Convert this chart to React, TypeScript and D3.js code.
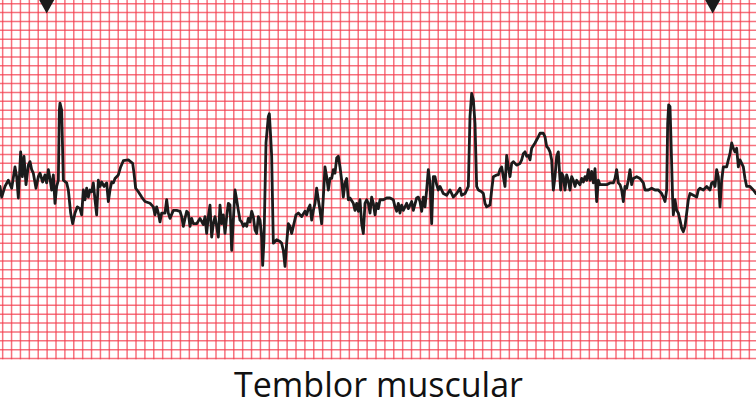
import React from "react";
import * as d3 from "d3";

// ECG trace: time (ms) and amplitude (mV)
const timeMs: number[] = [
  0, 7.5, 22.5, 37.5, 52.5, 67.5, 75, 82.5, 93, 100.5, 108, 117, 127.5, 135, 142.5, 150, 162, 172.5, 180, 192, 202.5, 210, 217.5, 225, 232.5, 240, 247.5, 255, 262.5, 267, 270, 277.5, 285, 300, 307.5, 318, 327, 337.5, 348, 360, 367.5, 375, 382.5, 390, 397.5, 405, 412.5, 420, 427.5, 435, 442.5, 450, 457.5, 468, 480, 487.5, 495, 502.5, 510, 517.5, 532.5, 543, 555, 577.5, 597, 603, 610.5, 622.5, 637.5, 652.5, 675, 690, 697.5, 705, 712.5, 720, 727.5, 742.5, 750, 757.5, 765, 780, 795, 810, 817.5, 825, 832.5, 840, 847.5, 855, 862.5, 870, 885, 900, 915, 922.5, 930, 937.5, 945, 952.5, 960, 967.5, 975, 982.5, 990, 997.5, 1005, 1012.5, 1020, 1027.5,
  1035, 1042.5, 1050, 1057.5, 1065, 1072.5, 1080, 1087.5, 1095, 1102.5, 1110, 1117.5, 1125, 1132.5, 1140, 1147.5, 1155, 1162.5, 1170, 1177.5, 1182, 1188, 1197, 1207.5, 1212, 1218, 1222.5, 1230, 1237.5, 1245, 1260, 1267.5, 1275, 1282.5, 1290, 1297.5, 1305, 1312.5, 1320, 1332, 1342.5, 1357.5, 1372.5, 1380, 1387.5, 1395, 1402.5, 1410, 1417.5, 1425, 1432.5, 1440, 1447.5, 1455, 1462.5, 1470, 1477.5, 1485, 1492.5, 1500, 1507.5, 1515, 1522.5, 1530, 1537.5, 1545, 1552.5, 1560, 1567.5, 1575, 1590, 1597.5, 1605, 1612.5, 1620, 1627.5, 1635, 1642.5, 1650, 1657.5, 1665, 1672.5, 1680, 1687.5, 1695, 1702.5, 1710, 1725, 1740, 1755, 1770, 1777.5, 1785, 1792.5, 1800, 1807.5, 1815, 1830, 1837.5, 1852.5, 1860, 1875, 1882.5, 1890, 1897.5, 1905, 1912.5, 1920, 1927.5, 1935, 1942.5, 1950, 1957.5, 1965, 1972.5, 1980, 1995, 2010, 2025, 2040, 2055, 2070, 2077.5, 2092.5, 2107.5, 2115, 2122.5, 2130, 2137.5, 2145, 2152.5, 2167.5,
  2175, 2182.5, 2190, 2205, 2212.5, 2220, 2235, 2242.5, 2250, 2257.5, 2265, 2272.5, 2280, 2287.5, 2295, 2302.5, 2310, 2325, 2340, 2347.5, 2355, 2362.5, 2370, 2377.5, 2385, 2392.5, 2407.5, 2422.5, 2430, 2445, 2452.5, 2460, 2467.5, 2475, 2482.5, 2490, 2497.5, 2505, 2512.5, 2517, 2523, 2527.5, 2535, 2542.5, 2550, 2557.5, 2565, 2572.5, 2580, 2587.5, 2595, 2602.5, 2610, 2617.5, 2625, 2632.5, 2640, 2647.5, 2655, 2662.5, 2670, 2677.5, 2685, 2692.5, 2700, 2715, 2730, 2745, 2760, 2767.5, 2775, 2782.5, 2790, 2797.5, 2805, 2812.5, 2820, 2827.5, 2835, 2842.5, 2850, 2865, 2880, 2895, 2902.5, 2917.5, 2932.5, 2947.5, 2962.5, 2977.5, 2985, 2992.5, 3000, 3004.5, 3009, 3015, 3019.5, 3027, 3030, 3037.5, 3045, 3052.5, 3060, 3067.5, 3075, 3082.5, 3090, 3097.5, 3105, 3120, 3135, 3142.5, 3150, 3165, 3180, 3195, 3202.5, 3210, 3217.5, 3225, 3232.5, 3240, 3247.5, 3255, 3270, 3277.5, 3285, 3292.5, 3300, 3307.5, 3315, 3322.5, 3330, 3337.5, 3345, 3352.5, 3360, 3375, 3390, 3402,
];

const amplitudeMv: number[] = [
  0.04, -0.08, 0.04, 0.11, 0.02, 0.26, 0.15, -0.09, 0.43, 0.15, 0.38, 0.06, 0.28, 0.32, 0.23, 0.19, 0.02, 0.15, 0.19, 0.09, 0.17, 0.08, 0.23, 0.13, 0.0, 0.17, -0.15, 0.04, 0.11, 0.9, 0.98, 0.9, 0.11, 0.08, 0.0, -0.26, -0.38, -0.26, -0.19, -0.21, -0.28, 0.0, -0.11, 0.02, -0.08, 0.0, -0.02, 0.08, -0.11, -0.28, 0.11, 0.04, 0.09, 0.04, 0.08, -0.13, 0.0, 0.09, 0.08, 0.13, 0.17, 0.26, 0.33, 0.34, 0.3, 0.19, 0.02, -0.02, -0.08, -0.13, -0.15, -0.19, -0.28, -0.19, -0.26, -0.36, -0.26, -0.26, -0.11, -0.26, -0.32, -0.23, -0.23, -0.24, -0.3, -0.41, -0.32, -0.24, -0.26, -0.41, -0.32, -0.38, -0.38, -0.32, -0.39, -0.3, -0.49, -0.3, -0.17, -0.53, -0.38, -0.3, -0.41, -0.53, -0.17, -0.38, -0.28, -0.49, -0.3, -0.15,
  -0.17, -0.68, -0.34, 0.0, -0.11, -0.23, -0.34, -0.36, -0.41, -0.38, -0.41, -0.32, -0.36, -0.24, -0.3, -0.45, -0.49, -0.3, -0.34, -0.53, -0.85, -0.56, 0.53, 0.83, 0.86, 0.6, 0.38, -0.6, -0.58, -0.56, -0.58, -0.6, -0.68, -0.86, -0.6, -0.38, -0.41, -0.49, -0.41, -0.28, -0.26, -0.3, -0.24, -0.28, -0.21, -0.17, -0.34, -0.23, -0.15, 0.02, -0.11, -0.23, -0.38, -0.08, 0.26, 0.15, 0.0, 0.13, 0.13, 0.23, 0.19, 0.36, 0.38, 0.26, 0.11, -0.08, 0.08, 0.13, -0.11, -0.09, -0.15, -0.23, -0.15, -0.24, -0.11, -0.38, -0.49, -0.15, -0.11, -0.15, -0.26, -0.08, -0.15, -0.28, -0.15, -0.21, -0.11, -0.11, -0.09, -0.09, -0.11, -0.19, -0.24, -0.15, -0.26, -0.17, -0.23, -0.15, -0.21, -0.13, -0.23, -0.09, -0.08, -0.13, -0.24, -0.08, -0.19, 0.0, 0.23, 0.08, -0.38, 0.15, 0.15, 0.06, 0.0, 0.04, -0.04, -0.06, 0.0, -0.08, -0.04, 0.02, -0.06, -0.04, 0.04, 0.83, 1.09, 1.02, 0.75, 0.04, 0.0, -0.02,
  -0.04, -0.15, -0.19, -0.17, 0.0, 0.15, 0.17, 0.17, 0.23, 0.26, 0.15, 0.04, 0.39, 0.26, 0.15, 0.3, 0.32, 0.28, 0.3, 0.34, 0.41, 0.43, 0.38, 0.39, 0.34, 0.47, 0.53, 0.6, 0.64, 0.64, 0.6, 0.49, 0.47, 0.43, 0.34, 0.0, 0.15, 0.38, 0.43, 0.23, 0.0, 0.19, 0.15, 0.0, 0.17, 0.11, 0.0, 0.15, 0.11, 0.04, 0.11, 0.08, 0.06, 0.13, 0.09, 0.15, 0.11, 0.23, 0.11, 0.21, 0.08, 0.24, -0.13, 0.11, 0.06, 0.06, 0.06, 0.08, 0.08, 0.13, 0.23, 0.08, 0.06, 0.0, -0.13, 0.04, 0.02, 0.11, 0.23, 0.06, 0.13, 0.15, 0.13, 0.08, 0.0, 0.0, 0.02, 0.0, 0.0, -0.04, -0.08, -0.13, 0.0, 0.75, 0.96, 0.94, 0.56, -0.11, -0.28, -0.11, -0.23, -0.26, -0.34, -0.43, -0.47, -0.41, -0.26, -0.11, -0.04, -0.06, -0.08, 0.0, 0.02, 0.0, 0.04, 0.0, 0.08, 0.09, 0.04, 0.23, 0.15, -0.19, 0.11, 0.26, 0.26, 0.34, 0.41, 0.53, 0.47, 0.43, 0.47, 0.26, 0.34, 0.3, 0.26, 0.13, 0.04, 0.04, 0.0, -0.04,
];

// Beat markers (ms) shown as triangles at the top of the strip
const markerTimesMs: number[] = [210, 3207];

const titleText = "Temblor muscular";

const W = 756;
const H = 407;
const GRID_BOTTOM = 358.5;

export default function App() {
  const x = d3.scaleLinear().domain([0, 3402]).range([0, W]);
  const y = d3.scaleLinear().domain([-1, 1]).range([190 + 88.7, 190 - 88.7]);

  const vTimes = d3.range(12, 3420, 40);
  const hVolts = d3.range(0, 41).map((k) => y.invert(GRID_BOTTOM) + 0.1 * k);

  const points: [number, number][] = timeMs.map((t, i) => [t, amplitudeMv[i]]);
  const line = d3
    .line<[number, number]>()
    .x((d) => x(d[0]))
    .y((d) => y(d[1]));

  const tri = (cx: number) => `M${cx - 7.5},0 L${cx + 7.5},0 L${cx},13.5 Z`;

  return (
    <svg
      width={W}
      height={H}
      style={{ position: "absolute", left: 0, top: 0, background: "#fff" }}
    >
      <rect x={0} y={0} width={W} height={H} fill="#fff" />
      <g>
        {vTimes.map((t) => (
          <line
            key={"v" + t}
            x1={x(t)}
            x2={x(t)}
            y1={0}
            y2={GRID_BOTTOM + 0.8}
            stroke="#f23a4b"
            strokeOpacity={0.72}
            strokeWidth={1.5}
          />
        ))}
        {hVolts.map((v, i) => (
          <line
            key={"h" + i}
            x1={0}
            x2={W}
            y1={y(v)}
            y2={y(v)}
            stroke="#f23a4b"
            strokeOpacity={0.72}
            strokeWidth={1.5}
          />
        ))}
      </g>
      <path
        d={line(points) || ""}
        fill="none"
        stroke="#1b1b1b"
        strokeWidth={2.8}
        strokeLinejoin="round"
        strokeLinecap="round"
      />
      {markerTimesMs.map((t) => (
        <path key={"m" + t} d={tri(x(t))} fill="#1b1b1b" />
      ))}
      <text
        x={378.5}
        y={396.5}
        textAnchor="middle"
        fontFamily="'Open Sans', sans-serif"
        fontSize={34}
        fill="#111"
      >
        {titleText}
      </text>
    </svg>
  );
}
